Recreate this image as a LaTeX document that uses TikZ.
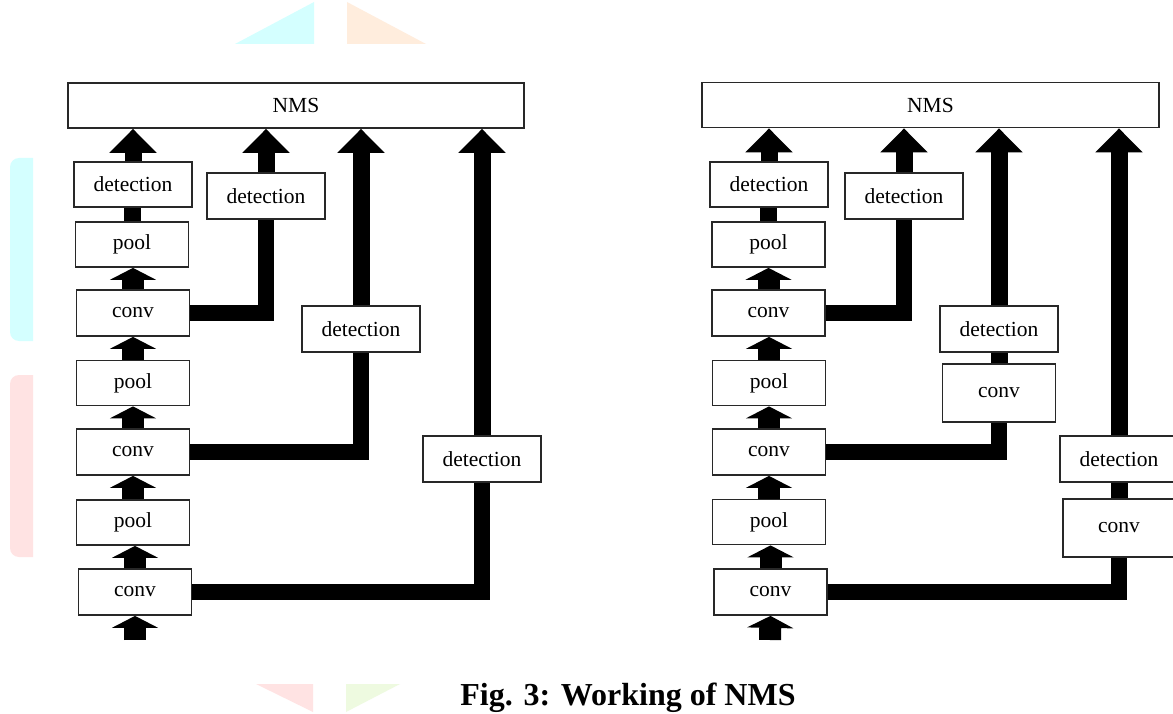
\documentclass[tikz,border=0pt]{standalone}
\usepackage{fontspec}
\setmainfont{Liberation Serif}
\usepackage{tikz}
\usetikzlibrary{arrows.meta}
\definecolor{BoxLine}{RGB}{40,40,40}
\definecolor{MarkCyan}{RGB}{212,255,255}
\definecolor{MarkOrange}{RGB}{255,237,221}
\definecolor{MarkPink}{RGB}{255,227,227}
\definecolor{MarkGreen}{RGB}{238,250,224}

\begin{document}
\begin{tikzpicture}[x=1pt,y=-1pt,
    box/.style={draw=BoxLine, line width=1.8pt, fill=white, inner sep=0pt,
        minimum width=113pt, minimum height=45pt, font=\fontsize{21.5}{25}\selectfont},
    flow/.style={line width=22pt, -{Triangle[width=46pt,length=12pt]}},
    feed/.style={line width=17pt, -{Triangle[width=46pt,length=24pt]}},
    link/.style={line width=17pt},
    branch/.style={line width=16pt, line join=miter}]
    \clip (0,0) rectangle (1173,714);
    \fill[white] (0,0) rectangle (1173,714);

    % faint marks of the page
    \fill[MarkCyan] (314,2) -- (314,44) -- (235,44) -- cycle;
    \fill[MarkOrange] (347,2) -- (347,44) -- (426,44) -- cycle;
    \fill[MarkCyan] (33,158) [rounded corners=9pt] -- (10,158) -- (10,341) [sharp corners] -- (33,341) -- cycle;
    \fill[MarkPink] (33,375) [rounded corners=9pt] -- (10,375) -- (10,557) [sharp corners] -- (33,557) -- cycle;
    \fill[MarkPink] (256,684) -- (313,684) -- (313,712) -- cycle;
    \fill[MarkGreen] (346,684) -- (400,684) -- (346,712) -- cycle;

    % left network
    \node[box, minimum width=456pt] (nmsL) at (296,105.5) {NMS};
    \node[box, minimum width=118pt] (det1L) at (133,184.5) {detection};
    \node[box] (pool1L) at (132,244.5) {pool};
    \node[box, minimum height=46pt] (conv1L) at (133,313) {conv};
    \node[box] (pool2L) at (133,383) {pool};
    \node[box, minimum height=46pt] (conv2L) at (133,452) {conv};
    \node[box] (pool3L) at (133,522.5) {pool};
    \node[box, minimum height=46pt] (conv3L) at (135,592) {conv};
    \node[box, minimum width=118pt, minimum height=46pt] (det2L) at (266,196) {detection};
    \node[box, minimum width=118pt, minimum height=46pt] (det3L) at (361,329) {detection};
    \node[box, minimum width=118pt, minimum height=46pt] (det4L) at (482,459) {detection};
    \coordinate (inL) at (135,640);

    \draw[flow] (inL) -- (conv3L.south);
    \draw[flow] (conv3L.north) -- (conv3L.north |- pool3L.south);
    \draw[flow] (pool3L.north) -- (pool3L.north |- conv2L.south);
    \draw[flow] (conv2L.north) -- (conv2L.north |- pool2L.south);
    \draw[flow] (pool2L.north) -- (pool2L.north |- conv1L.south);
    \draw[flow] (conv1L.north) -- (conv1L.north |- pool1L.south);
    \draw[link] (pool1L.north) -- (pool1L.north |- det1L.south);
    \draw[feed] (det1L.north) -- (det1L.north |- nmsL.south);
    \draw[branch] (conv1L.east) -| (det2L.south);
    \draw[branch] (conv2L.east) -| (det3L.south);
    \draw[branch] (conv3L.east) -| (det4L.south);
    \draw[feed] (det2L.north) -- (det2L.north |- nmsL.south);
    \draw[feed] (det3L.north) -- (det3L.north |- nmsL.south);
    \draw[feed] (det4L.north) -- (det4L.north |- nmsL.south);

    % right network
    \node[box, minimum width=457pt] (nmsR) at (930.5,105) {NMS};
    \node[box, minimum width=118pt] (det1R) at (769,184.5) {detection};
    \node[box] (pool1R) at (768.5,244.5) {pool};
    \node[box, minimum height=46pt] (conv1R) at (768.5,313) {conv};
    \node[box] (pool2R) at (769,383) {pool};
    \node[box, minimum height=46pt] (conv2R) at (769,452) {conv};
    \node[box] (pool3R) at (769,522) {pool};
    \node[box, minimum height=46pt] (conv3R) at (770.5,592) {conv};
    \node[box, minimum width=118pt, minimum height=46pt] (det2R) at (904,196) {detection};
    \node[box, minimum width=118pt, minimum height=46pt] (det3R) at (999,329) {detection};
    \node[box, minimum height=58pt] (conv4R) at (999,393) {conv};
    \node[box, minimum width=118pt, minimum height=46pt] (det4R) at (1119,459) {detection};
    \node[box, minimum width=112pt, minimum height=58pt] (conv5R) at (1119,528) {conv};
    \coordinate (inR) at (770,640);

    \draw[flow] (inR) -- (conv3R.south);
    \draw[flow] (conv3R.north) -- (conv3R.north |- pool3R.south);
    \draw[flow] (pool3R.north) -- (pool3R.north |- conv2R.south);
    \draw[flow] (conv2R.north) -- (conv2R.north |- pool2R.south);
    \draw[flow] (pool2R.north) -- (pool2R.north |- conv1R.south);
    \draw[flow] (conv1R.north) -- (conv1R.north |- pool1R.south);
    \draw[link] (pool1R.north) -- (pool1R.north |- det1R.south);
    \draw[feed] (det1R.north) -- (det1R.north |- nmsR.south);
    \draw[branch] (conv1R.east) -| (det2R.south);
    \draw[branch] (conv2R.east) -| (conv4R.south);
    \draw[link] (conv4R.north) -- (det3R.south);
    \draw[branch] (conv3R.east) -| (conv5R.south);
    \draw[link] (conv5R.north) -- (det4R.south);
    \draw[feed] (det2R.north) -- (det2R.north |- nmsR.south);
    \draw[feed] (det3R.north) -- (det3R.north |- nmsR.south);
    \draw[feed] (det4R.north) -- (det4R.north |- nmsR.south);

    \node[anchor=base, font=\fontsize{32}{38}\selectfont\bfseries] (caption) at (628,705) {Fig. 3: Working of NMS};
\end{tikzpicture}
\end{document}
